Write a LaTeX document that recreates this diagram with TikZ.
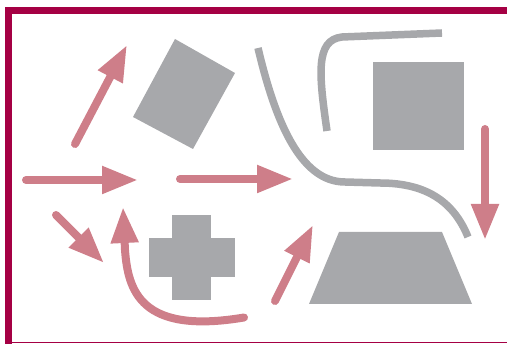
\documentclass[tikz,border=0pt]{standalone}
\usetikzlibrary{arrows.meta}
\definecolor{framec}{RGB}{165,0,68}
\definecolor{pinkc}{RGB}{206,126,137}
\definecolor{greyc}{RGB}{167,168,171}
\begin{document}
\begin{tikzpicture}[x=1pt,y=-1pt,
  parrow/.style={draw=pinkc, line width=8pt, line cap=round, -{Triangle[length=36pt,width=26pt]}},
  gline/.style={draw=greyc, line width=7.5pt},
  gshape/.style={fill=greyc}]
\useasboundingbox (0,0) rectangle (507,344);
% frame
\fill[framec] (5,7) rectangle (507,14);
\fill[framec] (5,7) rectangle (12,344);
\fill[framec] (5,342) rectangle (507,343.5);
% grey shapes
\fill[gshape] (175,39) -- (235,73) -- (193,149) -- (133,117) -- cycle;
\fill[gshape] (373,62) rectangle (464,150);
\fill[gshape] (172,215) rectangle (211,300);
\fill[gshape] (149,238) rectangle (235,277);
\fill[gshape] (339,232) -- (442,232) -- (472,304) -- (309,304) -- cycle;
% grey curves
\draw[gline] (258,48) .. controls (275,120) and (300,182) .. (345,182)
  -- (380,183) .. controls (430,183) and (455,205) .. (468,237);
\draw[gline] (327,131) .. controls (319,75) and (315,40) .. (342,37) -- (442,33);
% pink arrows
\coordinate (a1s) at (26,180); \coordinate (a1e) at (138,180);
\coordinate (a2s) at (180,179); \coordinate (a2e) at (293,179);
\coordinate (a3s) at (75,144); \coordinate (a3e) at (127,45);
\coordinate (a4s) at (56,215); \coordinate (a4e) at (104,263);
\coordinate (a5s) at (275,301); \coordinate (a5e) at (313,225);
\coordinate (a6s) at (485,129); \coordinate (a6e) at (485,240);
\coordinate (a7s) at (244,317.5); \coordinate (a7e) at (123,207);
\draw[parrow] (a1s) -- (a1e);
\draw[parrow] (a2s) -- (a2e);
\draw[parrow] (a3s) -- (a3e);
\draw[parrow] (a4s) -- (a4e);
\draw[parrow] (a5s) -- (a5e);
\draw[parrow] (a6s) -- (a6e);
\draw[parrow] (a7s) .. controls (140,335) and (128,290) .. (125,250) -- (a7e);
\end{tikzpicture}
\end{document}
